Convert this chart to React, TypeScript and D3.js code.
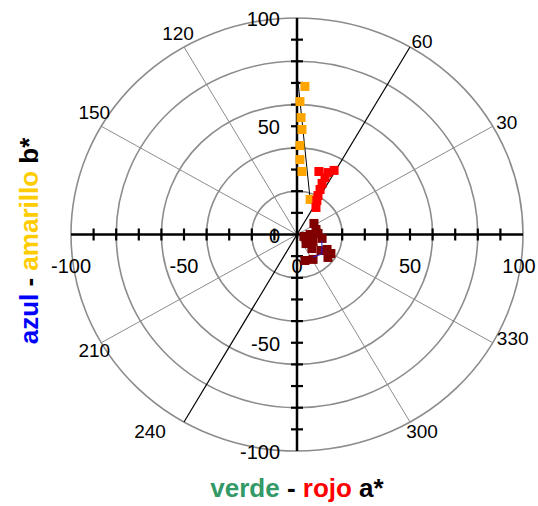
import * as d3 from 'd3';
import React from 'react';

// CIELAB a*/b* polar chart

const axisTicks = [-100, -50, 0, 50, 100];
const minorTicks = [-90, -80, -70, -60, -50, -40, -30, -20, -10, 10, 20, 30, 40, 50, 60, 70, 80, 90];
const circleRadii = [20, 40, 60, 80, 100];
const spokeAngles = [30, 60, 120, 150, 210, 240, 300, 330];
const hueLineAngle = 60;

// [a*, b*]
const orangePoints = [
  [3.5, 68.4], [1.3, 61.4], [1.8, 54.0], [2.2, 48.5],
  [1.3, 41.1], [1.3, 34.6], [2.2, 29.1], [5.8, 16.2],
];
const orangeTrend = [[0.4, 71], [5.8, 16.4]];
const redPoints = [
  [9.7, 29.1], [13.7, 28.6], [16.4, 29.6], [12.4, 26.3], [11.1, 23.6],
  [10.2, 20.8], [9.3, 18.0], [8.8, 15.7], [8.4, 12.5],
];
const darkRedPoints = [
  [7.5, 5.1], [3.1, -0.9], [5.8, 0], [9.3, 0.5], [11.1, -1.8],
  [7.1, -3.2], [4.0, -4.2], [6.6, -6.5], [10.6, -7.4], [13.3, -6.9],
  [15.0, -8.8], [13.7, -10.6], [3.5, -12.0], [7.1, -11.5], [8.4, 2.3],
];
const blueTrace = [[11, -3], [11, -9], [7, -10.5]];

const W = 538;
const H = 506;

// label offsets (px) from the end of each spoke
const angleLabelOffset: Record<number, [number, number]> = {
  30: [14, -4], 60: [12, -6], 120: [-6, -14], 150: [-7, -14],
  210: [-7, 8], 240: [-34, 10], 300: [12, 10], 330: [20, -4],
};

const App = () => {
  const x = d3.scaleLinear().domain([-100, 100]).range([71, 523]);
  const y = d3.scaleLinear().domain([-100, 100]).range([451, 18]);
  const cx = x(0);
  const cy = y(0);

  const polar = (r: number, deg: number): [number, number] => {
    const t = (deg * Math.PI) / 180;
    return [x(r * Math.cos(t)), y(r * Math.sin(t))];
  };

  const line = d3.line<number[]>().x((d) => x(d[0])).y((d) => y(d[1]));

  const font = 'Liberation Sans, Arial, sans-serif';
  const sq = 9;

  const squares = (pts: number[][], fill: string, key: string) =>
    pts.map((d, i) => (
      <rect key={key + i} x={x(d[0]) - sq / 2} y={y(d[1]) - sq / 2} width={sq} height={sq} fill={fill} />
    ));

  const hueA = polar(100, hueLineAngle);
  const hueB = polar(100, hueLineAngle + 180);

  return (
    <svg width={W} height={H} style={{ position: 'absolute', left: 0, top: 0, background: '#fff' }} fontFamily={font}>
      {/* grid circles */}
      {circleRadii.map((r) => (
        <ellipse key={'c' + r} cx={cx} cy={cy} rx={x(r) - cx} ry={cy - y(r)} fill="none" stroke="#8c8c8c" strokeWidth={1.6} />
      ))}
      {/* spokes */}
      {spokeAngles.filter((a) => a % 180 !== hueLineAngle).map((a) => {
        const [ex, ey] = polar(100, a);
        return <line key={'s' + a} x1={cx} y1={cy} x2={ex} y2={ey} stroke="#8c8c8c" strokeWidth={1} />;
      })}
      {/* angle labels */}
      {spokeAngles.map((a) => {
        const [ex, ey] = polar(100, a);
        const [dx, dy] = angleLabelOffset[a];
        return (
          <text key={'al' + a} x={ex + dx} y={ey + dy} fontSize={19} textAnchor="middle" dominantBaseline="central">
            {a}
          </text>
        );
      })}
      {/* hue line */}
      <line x1={hueB[0]} y1={hueB[1]} x2={hueA[0]} y2={hueA[1]} stroke="#000" strokeWidth={1.2} />

      {/* axes */}
      <line x1={x(-100)} y1={cy} x2={x(100)} y2={cy} stroke="#000" strokeWidth={2.5} />
      <line x1={cx} y1={y(-100)} x2={cx} y2={y(100)} stroke="#000" strokeWidth={2.5} />
      {minorTicks.map((t) => (
        <g key={'t' + t}>
          <line x1={x(t)} y1={cy - 6} x2={x(t)} y2={cy + 6} stroke="#000" strokeWidth={2.2} />
          <line x1={cx - 6} y1={y(t)} x2={cx + 6} y2={y(t)} stroke="#000" strokeWidth={2.2} />
        </g>
      ))}
      {axisTicks.map((t) => {
        // keep the last label inside the picture
        const lx = Math.min(x(t), W - 19);
        return (
          <g key={'l' + t}>
            <text x={lx} y={cy + 31} fontSize={20} textAnchor="middle" dominantBaseline="central">{t}</text>
            <text x={cx - 17} y={y(t) + 1} fontSize={20} textAnchor="end" dominantBaseline="central">{t}</text>
          </g>
        );
      })}

      {/* data */}
      <path d={line(orangeTrend) || ''} fill="none" stroke="#000" strokeWidth={1} />
      {squares(orangePoints, '#ffa500', 'o')}
      {squares(redPoints, '#ff0000', 'r')}
      {squares(darkRedPoints, '#800000', 'd')}
      <path d={line(blueTrace) || ''} fill="none" stroke="#2020cc" strokeWidth={1} />

      {/* axis titles */}
      <text x={cx} y={497} fontSize={26} fontWeight="bold" textAnchor="middle">
        <tspan fill="#339966">verde</tspan>
        <tspan fill="#000"> - </tspan>
        <tspan fill="#ff0000">rojo</tspan>
        <tspan fill="#000"> a*</tspan>
      </text>
      <text transform={`translate(38, 241) rotate(-90)`} fontSize={26} fontWeight="bold" textAnchor="middle">
        <tspan fill="#0000ff">azul</tspan>
        <tspan fill="#000"> - </tspan>
        <tspan fill="#ffcc00">amarillo</tspan>
        <tspan fill="#000"> b*</tspan>
      </text>
    </svg>
  );
};

export default App;
